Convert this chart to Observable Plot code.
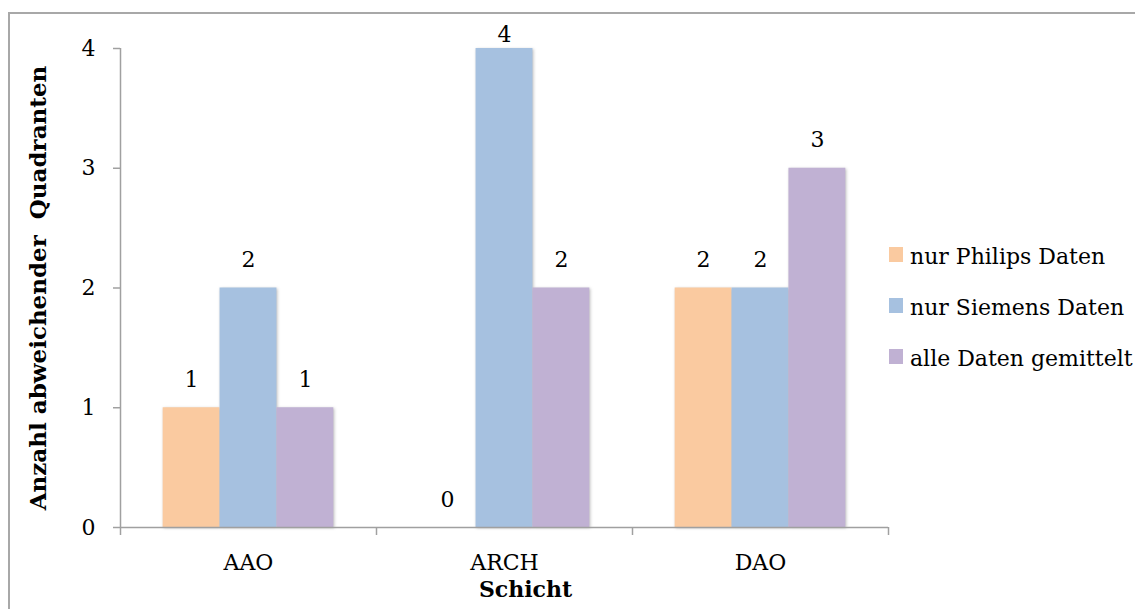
<!DOCTYPE html>
<html>
<head>
<meta charset="utf-8">
<script src="https://cdn.jsdelivr.net/npm/d3@7"></script>
<script src="https://cdn.jsdelivr.net/npm/@observablehq/plot@0.6"></script>
<style>
  html, body { margin: 0; padding: 0; background: #fff; }
  body { width: 1135px; height: 609px; overflow: hidden; position: relative; font-family: "DejaVu Serif", serif; }
  #frame { position: absolute; left: 8px; top: 12px; width: 1200px; height: 700px; border-left: 2px solid #a8a8a8; border-top: 2px solid #a8a8a8; }
  #chart { position: absolute; left: 0; top: 0; }
  #chart text { white-space: pre; }
  #legend { position: absolute; left: 889px; top: 231px; font-size: 22px; color: #000; }
  #legend .item { display: flex; align-items: center; height: 51px; white-space: nowrap; }
  #legend .sw { width: 14px; height: 15px; margin-right: 7px; margin-top: -4px; flex: none; }
</style>
</head>
<body>
<div id="frame"></div>
<div id="chart"></div>
<div id="legend"></div>
<script>
// Kategorien (Schichten) und Datenreihen
const categories = ["AAO", "ARCH", "DAO"];
const seriesNames = ["nur Philips Daten", "nur Siemens Daten", "alle Daten gemittelt"];
const philips = [1, 0, 2];
const siemens = [2, 4, 2];
const alle = [1, 2, 3];
const seriesColors = ["#facaa0", "#a6c1e0", "#c0b1d3"];
const yTicks = [0, 1, 2, 3, 4];

const seriesValues = [philips, siemens, alle];

// Balkenabstand wie in Office-Diagrammen: Lücke = 150 % der Balkenbreite
const gap = 1.5;
const slots = seriesNames.length + gap;

const rows = [];
categories.forEach((cat, i) => {
  seriesNames.forEach((s, j) => {
    const x1 = i + (gap / 2 + j) / slots;
    rows.push({category: cat, series: s, value: seriesValues[j][i], x1, x2: x1 + 1 / slots});
  });
});

const yMax = d3.max(yTicks);
const axisGray = "#a0a0a0";

const chart = Plot.plot({
  width: 1135,
  height: 609,
  marginLeft: 120,
  marginRight: 247,
  marginTop: 48,
  marginBottom: 82,
  style: {fontFamily: "DejaVu Serif, serif", fontSize: "22px", color: "#000", background: "transparent"},
  x: {
    domain: [0, categories.length],
    ticks: categories.map((c, i) => i + 0.5),
    tickFormat: v => categories[Math.floor(v)],
    tickSize: 0,
    tickPadding: 27,
    label: null
  },
  y: {
    domain: [0, yMax],
    ticks: yTicks,
    tickFormat: d3.format("d"),
    tickSize: 0,
    tickPadding: 25,
    label: null
  },
  color: {domain: seriesNames, range: seriesColors},
  marks: [
    // Balken
    Plot.rectY(rows, {x1: "x1", x2: "x2", y: "value", fill: "series"}),
    // Achsenlinien und Teilstriche
    Plot.ruleX([0], {stroke: axisGray, strokeWidth: 1.5}),
    Plot.ruleY([0], {stroke: axisGray, strokeWidth: 1.5}),
    Plot.ruleY(yTicks, {y: d => d, x1: 0, x2: 0, insetLeft: -7, stroke: axisGray, strokeWidth: 1.5}),
    Plot.ruleX(d3.range(categories.length + 1), {x: d => d, y1: 0, y2: 0, insetBottom: -8, stroke: axisGray, strokeWidth: 1.5}),
    // Datenbeschriftungen
    Plot.text(rows.filter(d => d.value < yMax), {
      x: d => (d.x1 + d.x2) / 2, y: "value", text: d => String(d.value), dy: -28, fill: "#000"
    }),
    Plot.text(rows.filter(d => d.value >= yMax), {
      x: d => (d.x1 + d.x2) / 2, y: "value", text: d => String(d.value), dy: -14, fill: "#000"
    }),
    // Achsentitel
    Plot.text(["Anzahl abweichender  Quadranten"], {
      frameAnchor: "left", textAnchor: "middle", rotate: -90, dx: -82,
      fontWeight: "bold", fontSize: 23, fill: "#000"
    }),
    Plot.text(["Schicht"], {
      frameAnchor: "bottom", textAnchor: "middle", dx: 21, dy: 69, fontWeight: "bold", fill: "#000"
    })
  ]
});

// leichter Schatten an den Balken
const bars = chart.querySelector("g[aria-label='rect']");
if (bars) bars.style.filter = "drop-shadow(1px 1px 1.5px rgba(0,0,0,0.25))";

document.getElementById("chart").appendChild(chart);

// Legende
const legend = d3.select("#legend");
seriesNames.forEach((name, j) => {
  const item = legend.append("div").attr("class", "item");
  item.append("div").attr("class", "sw").style("background", seriesColors[j]);
  item.append("span").text(name);
});
</script>
</body>
</html>
